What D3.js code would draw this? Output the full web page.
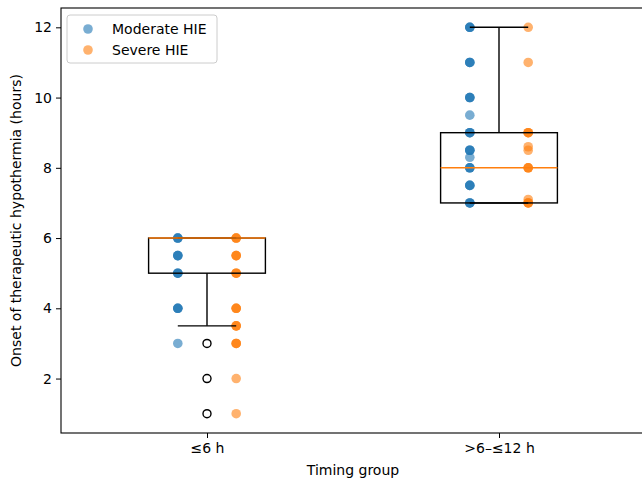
<!DOCTYPE html>
<meta charset="utf-8">
<style>
    body { margin: 0; background: #fff; }
    text { font-family: "DejaVu Sans", sans-serif; }
</style>
<svg width="642" height="480"></svg>
<script src="https://cdn.jsdelivr.net/npm/d3@7"></script>
<script>

    // categories and tick labels
    var groups = ["\u22646 h", ">6\u2013\u226412 h"];
    var yTicks = [2, 4, 6, 8, 10, 12];

    // scatter values per group (repeated values overlap and look darker)
    var moderate = [
        [6, 6, 6, 5.5, 5.5, 5.5, 5, 5, 5, 4, 4, 4, 3],
        [12, 12, 12, 11, 11, 11, 10, 10, 10, 9.5, 9, 9, 9, 8.5, 8.5, 8.5, 8.3, 8, 8, 8, 7.5, 7.5, 7.5, 7, 7, 7]
    ];
    var severe = [
        [6, 6, 6, 5.5, 5.5, 5.5, 5, 5, 5, 4, 4, 4, 3.5, 3.5, 3.5, 3, 3, 3, 2, 1],
        [12, 11, 9, 9, 9, 8.6, 8.5, 8, 8, 8, 7.1, 7, 7, 7]
    ];

    // box statistics per group
    var q1 = [5, 7];
    var medians = [6, 8];
    var q3 = [6, 9];
    var whiskLo = [3.5, 7];
    var whiskHi = [6, 12];
    var outliers = [[3, 2, 1], []];

    var svg = d3.select("svg");

    var x = d3.scaleLinear().domain([0.5, 2.5]).range([61, 645]);
    var y = d3.scaleLinear().domain([0.45, 12.55]).range([433, 8]);

    var blue = "#1f77b4", orange = "#ff7f0e";
    var fs = 14;

    // axes
    var yAxis = svg.append("g")
            .attr("transform", "translate(" + x(0.5) + ",0)")
            .call(d3.axisLeft(y).tickValues(yTicks).tickSize(5).tickPadding(4).tickFormat(d3.format("d")));
    var xAxis = svg.append("g")
            .attr("transform", "translate(0," + y(0.45) + ")")
            .call(d3.axisBottom(x).tickValues([1, 2]).tickSize(5).tickPadding(5)
                    .tickFormat(function(d) { return groups[d - 1]; }));
    [xAxis, yAxis].forEach(function(a) {
        a.selectAll("text").attr("font-size", fs).attr("fill", "#000").attr("font-family", "DejaVu Sans");
        a.selectAll("line").attr("stroke", "#000").attr("stroke-width", 1);
        a.select(".domain").remove();
    });

    var plot = svg.append("g");
    var bw = 0.2;

    // scatter points (under the boxes, like matplotlib zorder)
    groups.forEach(function(g, i) {
        var c = i + 1;
        plot.append("g").selectAll("circle")
                .data(moderate[i])
                .enter().append("circle")
                .attr("cx", x(c - 0.1)).attr("cy", function(d) { return y(d); })
                .attr("r", 4.8).attr("fill", blue).attr("fill-opacity", 0.6);
        plot.append("g").selectAll("circle")
                .data(severe[i])
                .enter().append("circle")
                .attr("cx", x(c + 0.1)).attr("cy", function(d) { return y(d); })
                .attr("r", 4.8).attr("fill", orange).attr("fill-opacity", 0.6);
    });

    groups.forEach(function(g, i) {
        var c = i + 1;
        var b = plot.append("g");
        // box
        b.append("rect")
                .attr("x", x(c - bw)).attr("y", y(q3[i]))
                .attr("width", x(c + bw) - x(c - bw)).attr("height", y(q1[i]) - y(q3[i]))
                .attr("fill", "none").attr("stroke", "#000").attr("stroke-width", 1.4);
        // whiskers
        [[q1[i], whiskLo[i]], [q3[i], whiskHi[i]]].forEach(function(w) {
            b.append("line")
                    .attr("x1", x(c)).attr("x2", x(c))
                    .attr("y1", y(w[0])).attr("y2", y(w[1]))
                    .attr("stroke", "#000").attr("stroke-width", 1.4);
            b.append("line")
                    .attr("x1", x(c - bw / 2)).attr("x2", x(c + bw / 2))
                    .attr("y1", y(w[1])).attr("y2", y(w[1]))
                    .attr("stroke", "#000").attr("stroke-width", 1.4);
        });
        // median
        b.append("line")
                .attr("x1", x(c - bw)).attr("x2", x(c + bw))
                .attr("y1", y(medians[i])).attr("y2", y(medians[i]))
                .attr("stroke", orange).attr("stroke-width", 1.4);
        // outliers
        b.selectAll("circle.fl")
                .data(outliers[i])
                .enter().append("circle")
                .attr("class", "fl")
                .attr("cx", x(c)).attr("cy", function(d) { return y(d); })
                .attr("r", 4).attr("fill", "none").attr("stroke", "#000").attr("stroke-width", 1.4);
    });

    // frame
    svg.append("rect")
            .attr("x", x(0.5)).attr("y", y(12.55))
            .attr("width", x(2.5) - x(0.5)).attr("height", y(0.45) - y(12.55))
            .attr("fill", "none").attr("stroke", "#000").attr("stroke-width", 1.1);

    // axis labels
    svg.append("text")
            .attr("x", (x(0.5) + x(2.5)) / 2).attr("y", 475)
            .attr("text-anchor", "middle").attr("font-size", fs)
            .text("Timing group");
    svg.append("text")
            .attr("transform", "translate(21," + (y(0.45) + y(12.55)) / 2 + ") rotate(-90)")
            .attr("text-anchor", "middle").attr("font-size", fs)
            .text("Onset of therapeutic hypothermia (hours)");

    // legend
    var legend = svg.append("g").attr("transform", "translate(67,15)");
    legend.append("rect")
            .attr("width", 150).attr("height", 48).attr("rx", 3)
            .attr("fill", "#fff").attr("fill-opacity", 0.8)
            .attr("stroke", "#ccc").attr("stroke-width", 1);
    [["Moderate HIE", blue], ["Severe HIE", orange]].forEach(function(l, k) {
        legend.append("circle")
                .attr("cx", 21).attr("cy", 14 + k * 21)
                .attr("r", 4.8).attr("fill", l[1]).attr("fill-opacity", 0.6);
        legend.append("text")
                .attr("x", 45).attr("y", 14 + k * 21).attr("dy", "0.35em")
                .attr("font-size", fs)
                .text(l[0]);
    });

</script>
